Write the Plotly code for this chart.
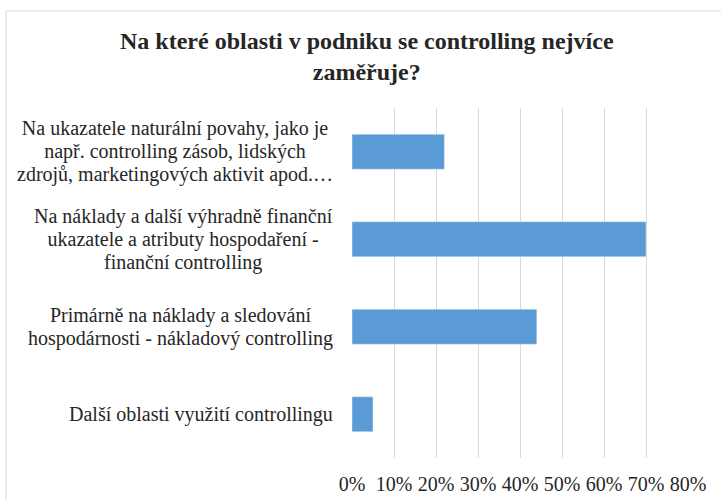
import plotly.graph_objects as go

categories = [
    "Na ukazatele naturální povahy, jako je<br>např. controlling zásob, lidských<br>zdrojů, marketingových aktivit apod.…",
    "Na náklady a další výhradně finanční<br>ukazatele a atributy hospodaření -<br>finanční controlling",
    "Primárně na náklady a sledování<br>hospodárnosti - nákladový controlling",
    "Další oblasti využití controllingu",
]
values = [0.22, 0.70, 0.44, 0.05]
tick_vals = [0, 0.1, 0.2, 0.3, 0.4, 0.5, 0.6, 0.7, 0.8]
tick_text = ["0%", "10%", "20%", "30%", "40%", "50%", "60%", "70%", "80%"]
title = "Na které oblasti v podniku se controlling nejvíce<br>zaměřuje?"

FONT = "'Liberation Serif', 'Times New Roman', serif"
W, H = 721, 500
L, R, T, B = 352, 33, 108, 42
pw, ph = W - L - R, H - T - B

def px_x(p):
    return (p - L) / pw

def px_y(p):
    return (H - B - p) / ph

fig = go.Figure(go.Bar(
    y=categories, x=values, orientation="h",
    marker=dict(color="#5B9BD5"),
    width=0.4,
))

for c in categories:
    shown = "<br>".join('<span style="font-size:20px">' + ln + "</span>"
                        for ln in c.split("<br>"))
    fig.add_annotation(
        x=0, y=c, xref="paper", yref="y", text=shown, showarrow=False,
        xanchor="right", yanchor="middle", align="center", xshift=-17,
        font=dict(family=FONT, size=17.5, color="#262626"),
    )

fig.add_annotation(
    x=px_x(367), y=px_y(56), xref="paper", yref="paper", text=title,
    showarrow=False, xanchor="center", yanchor="middle", align="center",
    font=dict(family=FONT, size=24, color="#262626", weight="bold"),
)

fig.add_shape(type="rect", xref="paper", yref="paper",
              x0=px_x(6), x1=px_x(740), y0=px_y(11), y1=px_y(520),
              line=dict(color="#d9d9d9", width=1), layer="below")

fig.update_layout(
    width=W, height=H,
    margin=dict(l=L, r=R, t=T, b=B, autoexpand=False),
    paper_bgcolor="white", plot_bgcolor="white",
    showlegend=False,
    xaxis=dict(range=[0, 0.8], tickvals=tick_vals, ticktext=tick_text,
               showgrid=True, gridcolor="#d9d9d9", gridwidth=1, zeroline=False,
               showline=False, ticks="", ticklabelstandoff=12, automargin=False,
               tickfont=dict(family=FONT, size=20, color="#262626")),
    yaxis=dict(autorange="reversed", showticklabels=False, showgrid=False,
               zeroline=False, showline=False, automargin=False),
)

fig.write_html("out.html", config={"displayModeBar": False},
               post_script="document.body.style.margin='0';")
